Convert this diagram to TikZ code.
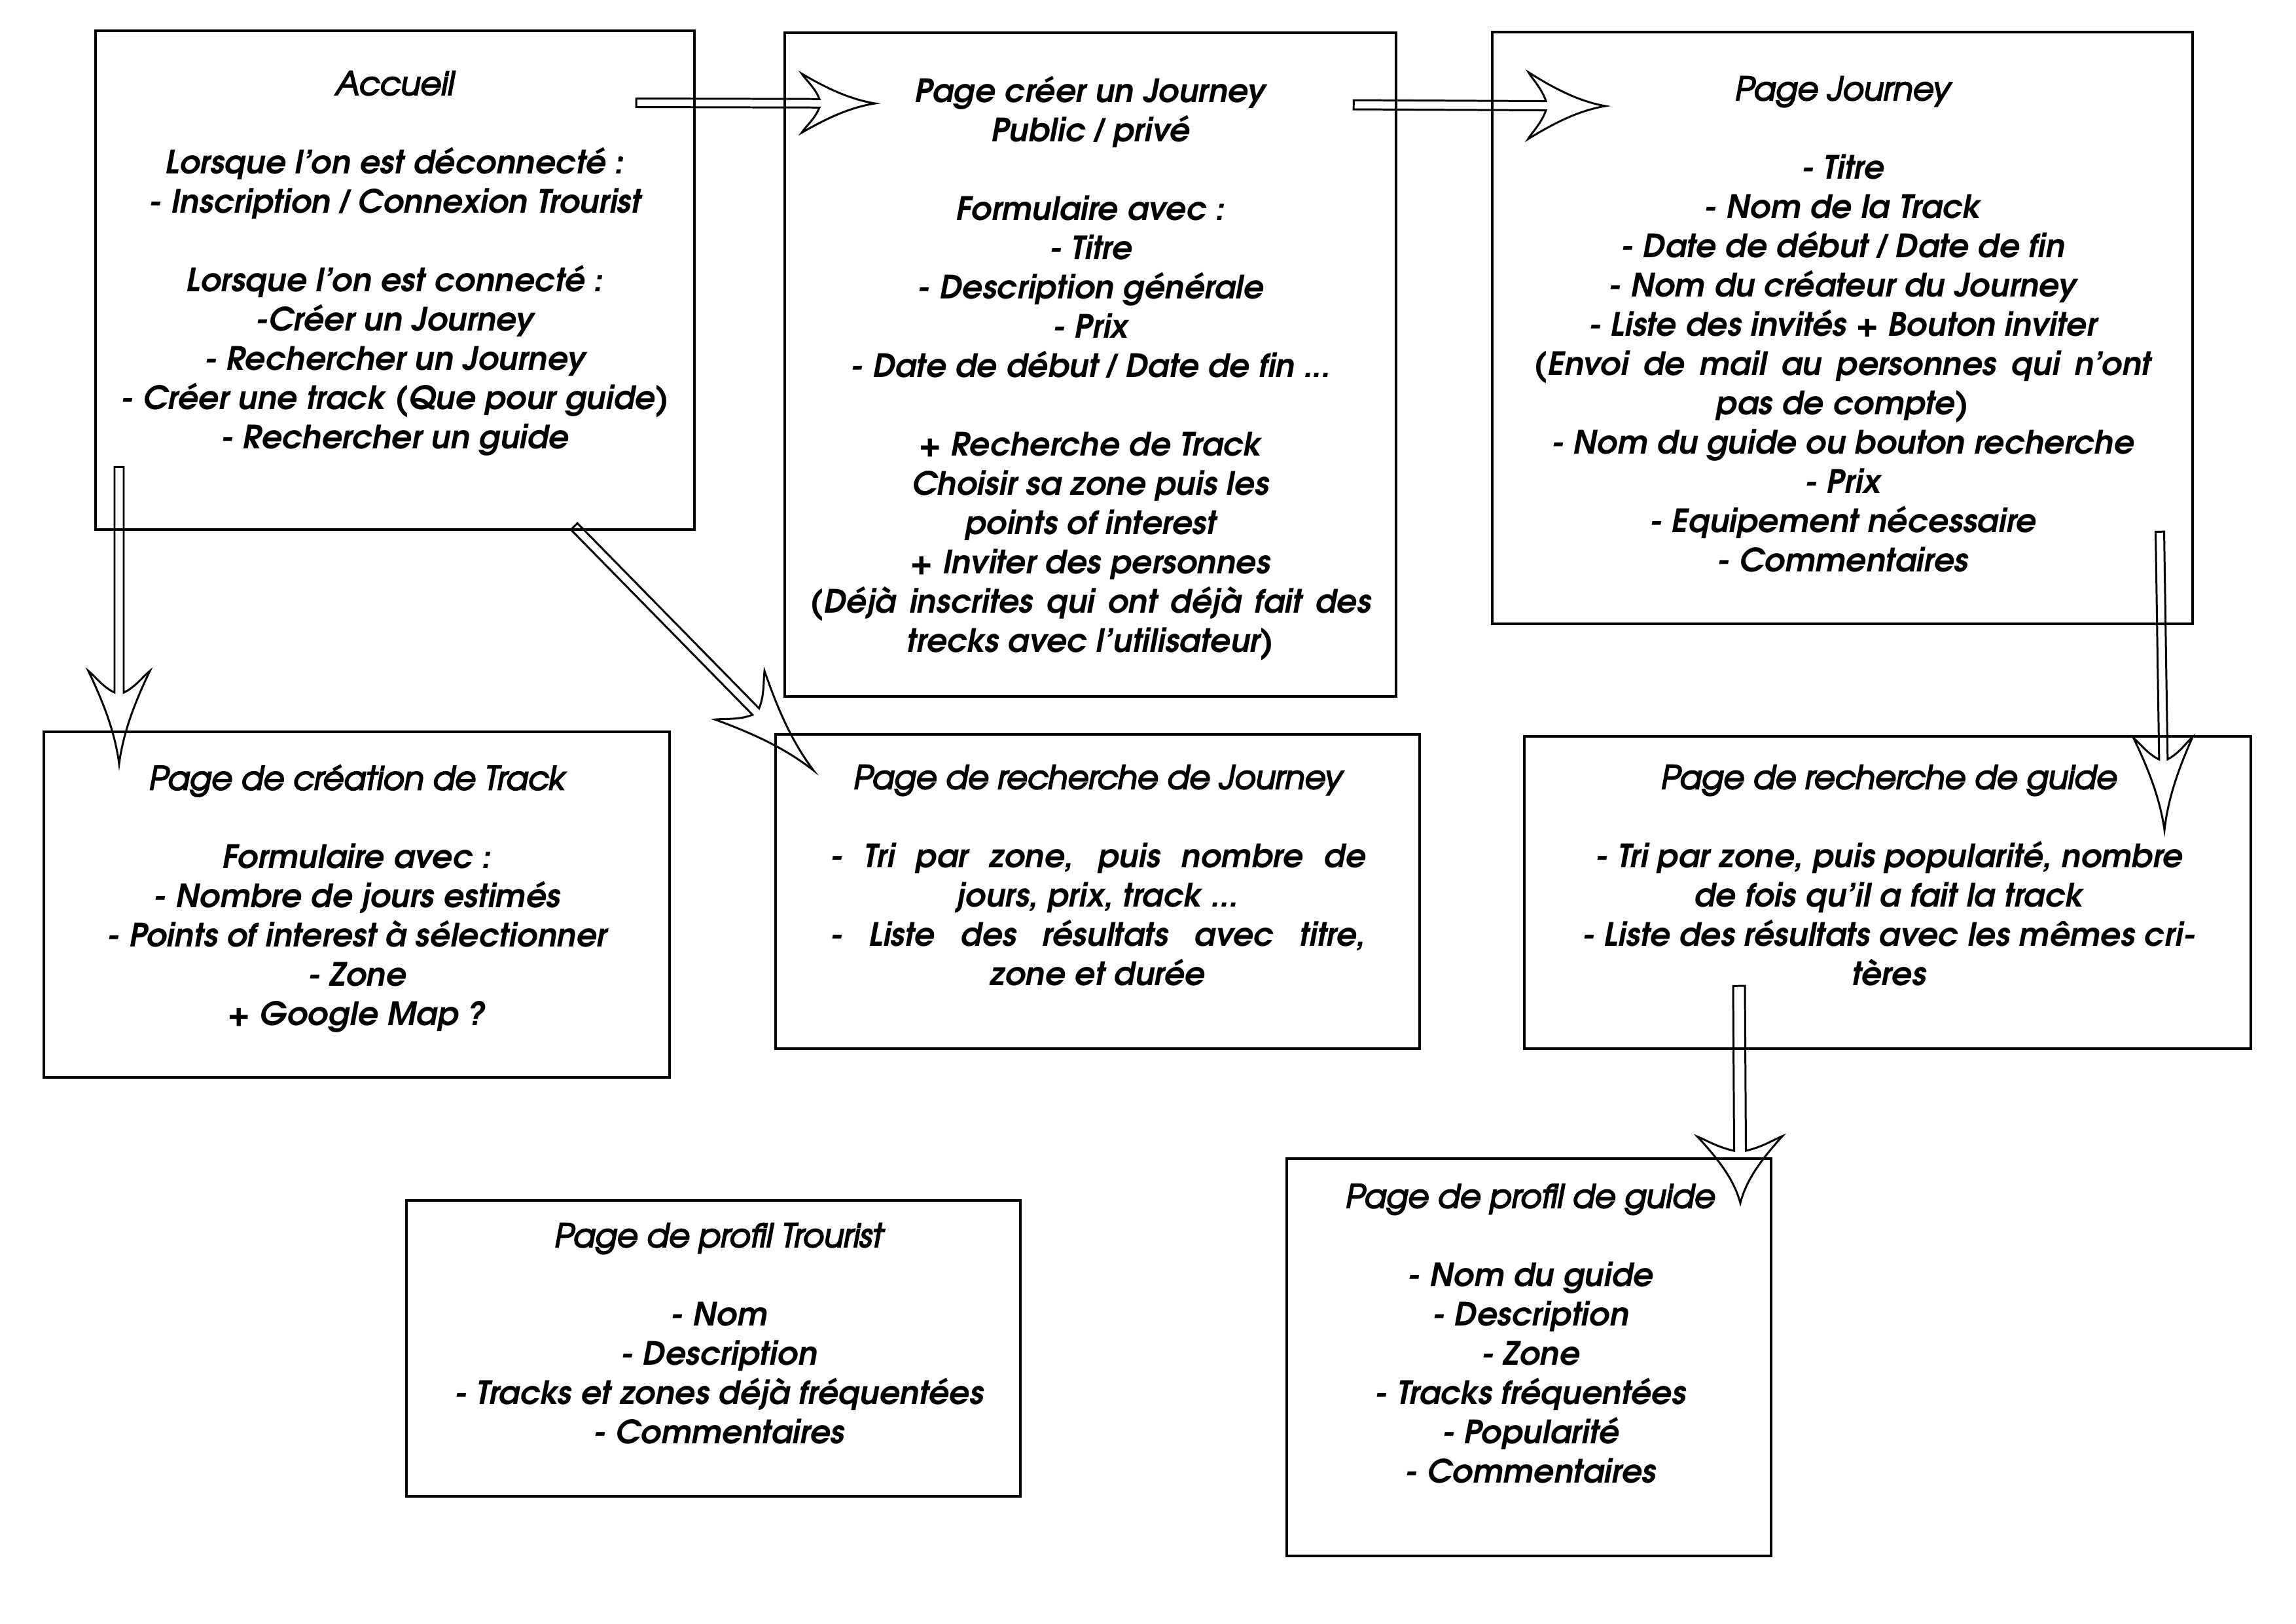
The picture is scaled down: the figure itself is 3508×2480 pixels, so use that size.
\documentclass[tikz,border=0pt]{standalone}
\usepackage{fontspec}
\setmainfont{texgyreadventor}[Extension=.otf, UprightFont=*-regular, BoldFont=*-bold, ItalicFont=*-italic, BoldItalicFont=*-bolditalic]
\newfontface\ttlfont{texgyreadventor-italic.otf}[FakeBold=4]
\newfontfamily\slashfont{Liberation Sans}
\usetikzlibrary{calc}
\newcommand\jline[2]{\makebox[#1][s]{#2}}
\newcommand\slsh{{\slashfont\bfseries\itshape /}}
% hollow arrow: #1 start coord, #2 tip coord, #3 half shaft width, #4 notch back, #5 barb back, #6 barb half
\newcommand\hollowarr[6]{%
  \path let \p1=($(#2)-(#1)$) in \pgfextra{%
    \pgfmathsetmacro\tmpa{atan2(\y1,\x1)}\xdef\harang{\tmpa}%
    \pgfmathsetmacro\tmpb{veclen(\x1,\y1)/0.2845276}\xdef\harlen{\tmpb}};
  \begin{scope}[shift={(#2)},rotate=\harang]
    \draw[arr] (-\harlen,#3) -- (-#4,#3)
      .. controls ({-#4-0.25*(#5-#4)},{#3+0.45*(#6-#3)}) and ({-0.95*#5},{0.8*#6}) .. (-#5,#6)
      .. controls ({-0.6*#5},{0.42*#6}) and ({-0.3*#5},{0.12*#6}) .. (0,0)
      .. controls ({-0.3*#5},{-0.12*#6}) and ({-0.6*#5},{-0.42*#6}) .. (-#5,-#6)
      .. controls ({-0.95*#5},{-0.8*#6}) and ({-#4-0.25*(#5-#4)},{-#3-0.45*(#6-#3)}) .. (-#4,-#3)
      -- (-\harlen,-#3) -- cycle;
  \end{scope}}
\begin{document}
\begin{tikzpicture}[x=0.01cm,y=-0.01cm,
  pg/.style 2 args={draw, line width=1.15pt, inner sep=0pt, minimum width=#1*0.01cm, minimum height=#2*0.01cm},
  txt/.style={align=center, inner sep=0pt, anchor=north, font=\fontsize{14}{17.07}\selectfont\bfseries\itshape},
  arr/.style={draw, line width=0.85pt, line join=miter}]
\useasboundingbox (0,0) rectangle (3508,2480);

% boxes
\node[pg={915}{762}]  (acc) at (603.5,428) {};
\node[pg={934}{1014}] (cre) at (1666,557) {};
\node[pg={1070}{904}] (jou) at (2815,501) {};
\node[pg={956}{528}]  (trk) at (545,1382) {};
\node[pg={984}{480}]  (rjo) at (1677,1362) {};
\node[pg={1110}{477}] (rgu) at (2884,1363.5) {};
\node[pg={938}{452}]  (ptr) at (1090,2060) {};
\node[pg={740}{607}]  (pgu) at (2336,2073.5) {};

% texts
\node[txt] (tacc) at (603,108) {{\ttlfont Accueil}\\[17.07pt]
Lorsque l’on est déconnecté :\\
- Inscription \slsh{} Connexion Trourist\\[17.07pt]
Lorsque l’on est connecté :\\
-Créer un Journey\\
- Rechercher un Journey\\
- Créer une track (Que pour guide)\\
- Rechercher un guide};

\node[txt] (tcre) at (1666,115) {Page créer un Journey\\
Public \slsh{} privé\\[17.07pt]
Formulaire avec :\\
- Titre\\
- Description générale\\
- Prix\\
- Date de début \slsh{} Date de fin ...\\[17.07pt]
+ Recherche de Track\\
Choisir sa zone puis les\\
points of interest\\
+ Inviter des personnes\\
\jline{8.57cm}{(Déjà inscrites qui ont déjà fait des}\\
trecks avec l’utilisateur)};

\node[txt] (tjou) at (2815,116) {{\ttlfont Page Journey}\\[17.07pt]
- Titre\\
- Nom de la Track\\
- Date de début \slsh{} Date de fin\\
- Nom du créateur du Journey\\
- Liste des invités + Bouton inviter\\
\jline{9.42cm}{(Envoi de mail au personnes qui n’ont}\\
pas de compte)\\
- Nom du guide ou bouton recherche\\
- Prix\\
- Equipement nécessaire\\
- Commentaires};

\node[txt] (ttrk) at (545,1168) {{\ttlfont Page de création de Track}\\[17.07pt]
Formulaire avec :\\
- Nombre de jours estimés\\
- Points of interest à sélectionner\\
- Zone\\
+ Google Map ?};

\node[txt] (trjo) at (1677,1168) {{\ttlfont Page de recherche de Journey}\\[17.07pt]
\jline{8.19cm}{-\ Tri par zone, puis nombre de}\\
jours, prix, track ...\\
\jline{8.19cm}{-\ Liste des résultats avec titre,}\\
zone et durée};

\node[txt] (trgu) at (2886,1168) {{\ttlfont Page de recherche de guide}\\[17.07pt]
- Tri par zone, puis popularité, nombre\\
de fois qu’il a fait la track\\
- Liste des résultats avec les mêmes cri-\\
tères};

\node[txt] (tptr) at (1098,1868) {{\ttlfont Page de profil Trourist}\\[17.07pt]
- Nom\\
- Description\\
- Tracks et zones déjà fréquentées\\
- Commentaires};

\node[txt] (tpgu) at (2338,1808) {{\ttlfont Page de profil de guide}\\[17.07pt]
- Nom du guide\\
- Description\\
- Zone\\
- Tracks fréquentées\\
- Popularité\\
- Commentaires};

% arrow end points
\coordinate (a1s) at (972,157);   \coordinate (a1t) at (1337,158);
\coordinate (a2s) at (2068,160);  \coordinate (a2t) at (2453,162);
\coordinate (a3s) at (182,713);   \coordinate (a3t) at (182,1167);
\coordinate (a4s) at (877,804);   \coordinate (a4t) at (1243,1177);
\coordinate (a5s) at (3300,812);  \coordinate (a5t) at (3307,1268);
\coordinate (a6s) at (2657,1506); \coordinate (a6t) at (2659,1838);

\hollowarr{a1s}{a1t}{6.5}{85}{112}{45}
\hollowarr{a2s}{a2t}{7}{91}{118}{51}
\hollowarr{a3s}{a3t}{7}{109}{142}{47}
\hollowarr{a4s}{a4t}{7}{126}{161}{53}
\hollowarr{a5s}{a5t}{6.5}{108}{141}{45}
\hollowarr{a6s}{a6t}{9}{80}{102}{65}

\fill (948,242) circle (3.5);
\end{tikzpicture}
\end{document}
